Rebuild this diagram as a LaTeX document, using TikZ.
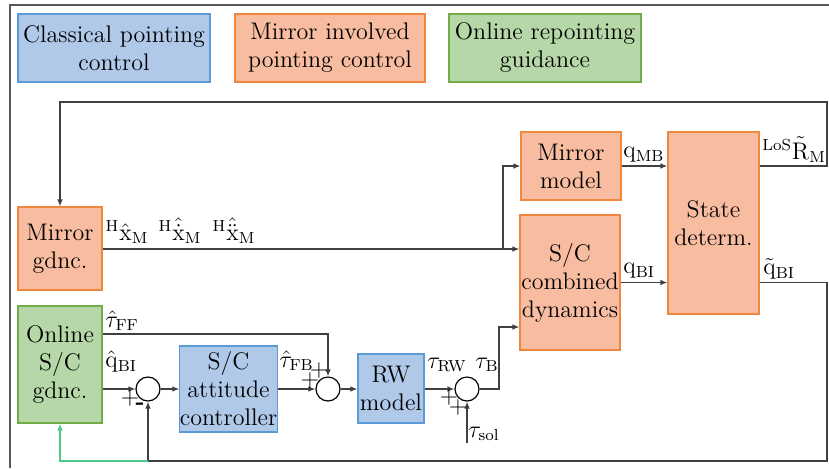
\documentclass[tikz,border=0pt]{standalone}
\usepackage{amsmath}
\usepackage{graphicx}
\usetikzlibrary{arrows.meta}
\definecolor{bfill}{HTML}{B0C9E8}
\definecolor{bdraw}{HTML}{5B9BD5}
\definecolor{ofill}{HTML}{F8BCA1}
\definecolor{odraw}{HTML}{F0873F}
\definecolor{gfill}{HTML}{B6D7A8}
\definecolor{gdraw}{HTML}{70AD47}
\definecolor{gline}{HTML}{4CC98A}
\definecolor{wire}{HTML}{404040}
\begin{document}
\begin{tikzpicture}[x=0.5pt,y=-0.5pt, font=\fontsize{12}{14}\selectfont,
  blk/.style={draw, line width=0.6pt, inner sep=0pt, align=center},
  bbox/.style={blk, fill=bfill, draw=bdraw},
  obox/.style={blk, fill=ofill, draw=odraw},
  gbox/.style={blk, fill=gfill, draw=gdraw},
  sumc/.style={circle, draw=black, line width=0.6pt, minimum size=12pt, inner sep=0pt},
  wirel/.style={draw=wire, line width=0.6pt},
  arr/.style={wirel, -{Latex[length=3.5pt,width=2.8pt]}},
  lbl/.style={inner sep=0pt, anchor=south west},
  sgn/.style={inner sep=0pt}]
\useasboundingbox (0,0) rectangle (829,468);
% frame
\draw[draw=gray!70!black, line width=0.7pt] (829,5) -- (10,5) -- (10,468);
% legend
\node[bbox, minimum width=96pt, minimum height=34pt] (l1) at (114,48) {Classical pointing\\control};
\node[obox, minimum width=95pt, minimum height=34pt] (l2) at (330,48) {Mirror involved\\pointing control};
\node[gbox, minimum width=96pt, minimum height=34pt] (l3) at (545,48) {Online repointing\\guidance};
% blocks
\node[obox, minimum width=42pt, minimum height=41.5pt] (mg) at (60,248.5) {Mirror\\gdnc.};
\node[gbox, minimum width=42pt, minimum height=58.5pt] (og) at (60,364.5) {Online\\S/C\\gdnc.};
\node[obox, minimum width=50pt, minimum height=34pt] (mm) at (571,166) {Mirror\\model};
\node[obox, minimum width=50pt, minimum height=67.5pt] (scd) at (570,282.5) {S/C\\combined\\dynamics};
\node[obox, minimum width=45.5pt, minimum height=91pt] (sd) at (713.5,223) {State\\determ.};
\node[bbox, minimum width=48.5pt, minimum height=43pt] (ctl) at (228.5,389) {S/C\\attitude\\controller};
\node[bbox, minimum width=33pt, minimum height=34.5pt] (rw) at (391,388.5) {RW\\model};
\node[sumc] (s1) at (148,389) {};
\node[sumc] (s2) at (328,389) {};
\node[sumc] (s3) at (467,389) {};
% helper coordinates
\coordinate (r1) at (827,102);
\coordinate (r2) at (827,461);
\coordinate (j1) at (503,249);
\coordinate (ffy) at (0,334);
\coordinate (j3) at (499,389);
\coordinate (tauy) at (0,327);
\coordinate (sol) at (467,443);
\coordinate (j2) at (148,461);
% connectors
\draw[arr] (sd.east |- mm.east) -| (r1) -| (mg.north);
\draw[arr] (mg.east |- j1) -- (scd.west |- j1);
\draw[arr] (j1) |- (mm.west);
\draw[arr] (mm.east) -- (mm.east -| sd.west);
\draw[arr] (scd.east) -- (scd.east -| sd.west);
\draw[arr] (scd.east -| sd.east) -| (r2) -| (s1.south);
\draw[draw=gline, line width=0.6pt, -{Latex[length=3.5pt,width=2.8pt]}] (j2) -| (og.south);
\draw[arr] (og.east |- s1) -- (s1.west);
\draw[arr] (og.east |- ffy) -| (s2.north);
\draw[arr] (s1.east) -- (ctl.west);
\draw[arr] (ctl.east) -- (s2.west);
\draw[arr] (s2.east) -- (rw.west |- s2);
\draw[arr] (rw.east |- s3) -- (s3.west);
\draw[arr] (s3.east) -- (j3) |- (scd.west |- tauy);
\draw[arr] (sol) -- (s3.south);
% labels
\node[inner sep=0pt, anchor=base] (lx1) at (127,240) {${}^{\mathrm{H}}\hat{\mathrm{x}}_{\mathrm{M}}$};
\node[inner sep=0pt, anchor=base] (lx2) at (180,240) {${}^{\mathrm{H}}\hat{\dot{\mathrm{x}}}_{\mathrm{M}}$};
\node[inner sep=0pt, anchor=base] (lx3) at (234,240) {${}^{\mathrm{H}}\hat{\ddot{\mathrm{x}}}_{\mathrm{M}}$};
\node[lbl] (tff) at (105,331) {$\hat{\tau}_{\mathrm{FF}}$};
\node[lbl] (qbi) at (105,373) {$\hat{\mathrm{q}}_{\mathrm{BI}}$};
\node[lbl] (tfb) at (279,371) {$\hat{\tau}_{\mathrm{FB}}$};
\node[lbl] (trw) at (427,372) {$\tau_{\mathrm{RW}}$};
\node[lbl] (tb) at (475,372) {$\tau_{\mathrm{B}}$};
\node[lbl] (tsol) at (468,441) {$\tau_{\mathrm{sol}}$};
\node[lbl] (qmb) at (623,163) {$\mathrm{q}_{\mathrm{MB}}$};
\node[lbl] (qbi2) at (623,279) {$\mathrm{q}_{\mathrm{BI}}$};
\node[lbl] (rm) at (762,163) {${}^{\mathrm{LoS}}\tilde{\mathrm{R}}_{\mathrm{M}}$};
\node[lbl] (qt) at (763,280) {$\tilde{\mathrm{q}}_{\mathrm{BI}}$};
% signs
\node[sgn] (p1) at (130,398) {$+$};
\node[sgn] (m1) at (140,406) {\textbf{-}};
\node[sgn] (p2) at (310,380) {$+$};
\node[sgn] (p3) at (319,370) {$+$};
\node[sgn] (p4) at (449,397) {$+$};
\node[sgn] (p5) at (458,407) {$+$};
\end{tikzpicture}
\end{document}
